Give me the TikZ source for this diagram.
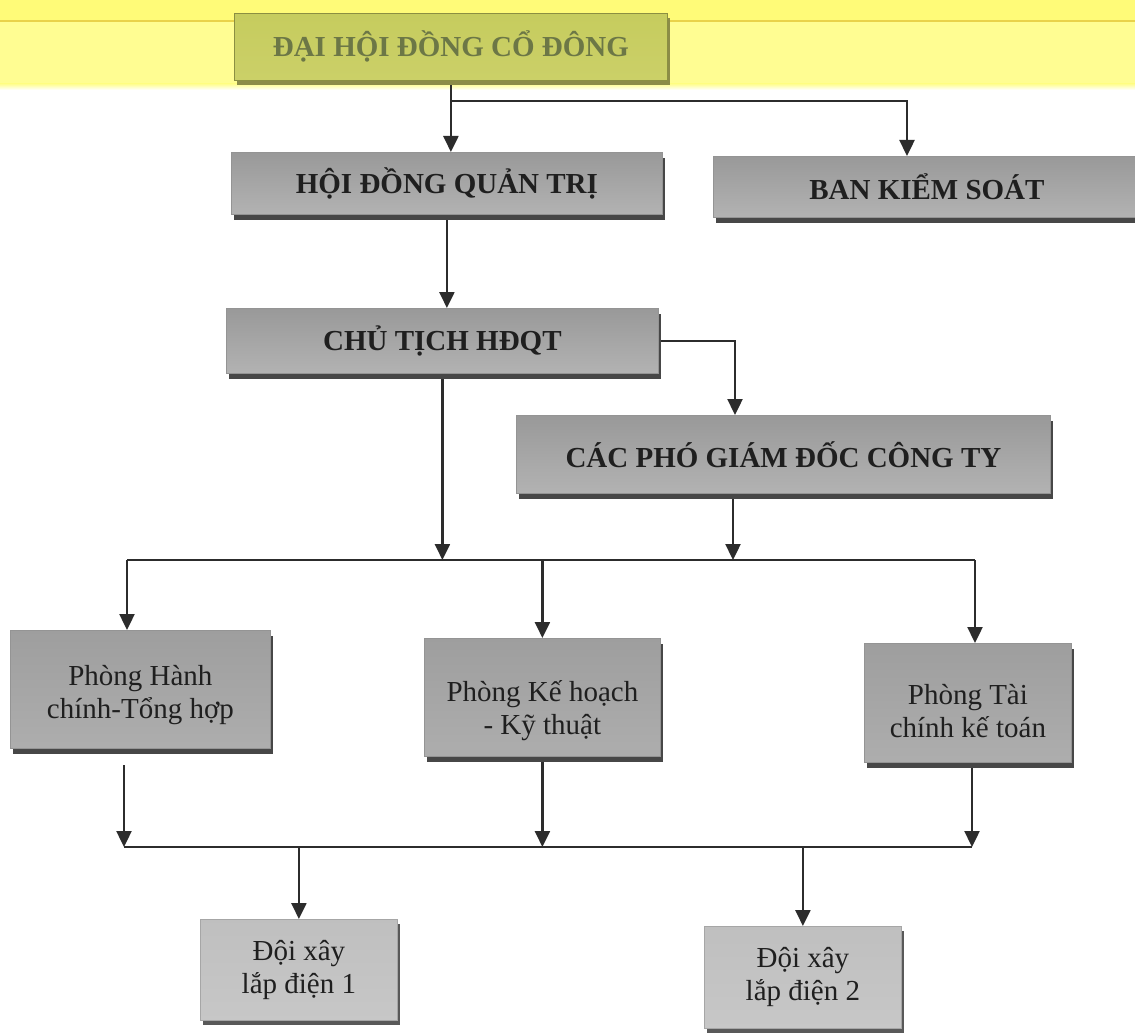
\documentclass[tikz,border=0pt]{standalone}
\usepackage{fontspec}
\setmainfont{Liberation Serif}
\usetikzlibrary{arrows.meta,shadows,calc}
\pgfdeclarelayer{back}
\pgfdeclarelayer{conn}
\pgfsetlayers{back,conn,main}
\definecolor{bandtop}{HTML}{FFFB78}
\definecolor{band}{HTML}{FFFD92}
\definecolor{bandline}{HTML}{E9D24A}
\definecolor{olivetop}{HTML}{C6CC5E}
\definecolor{olivemid}{HTML}{DADE86}
\definecolor{olivebot}{HTML}{CBD068}
\definecolor{olivetext}{HTML}{6C7746}
\definecolor{oliveshadow}{HTML}{8C8C48}
\definecolor{linec}{HTML}{2C2C2C}
\newcommand{\boldtext}{\fontsize{29}{33}\selectfont\bfseries}
\newcommand{\plaintext}{\fontsize{29}{33}\selectfont}
\tikzset{
  boxbase/.style={rectangle, anchor=north west, inner sep=0pt, align=center,
    line width=0.8pt},
  olivebox/.style={boxbase, draw=olivetop!70!black, top color=olivetop, middle color=olivemid,
    bottom color=olivebot, text=olivetext, font=\boldtext,
    general shadow={fill=oliveshadow, shadow xshift=3pt, shadow yshift=-5pt}},
  topbox/.style={boxbase, draw=black!42, top color=black!40, middle color=black!24,
    bottom color=black!30, text=black!88, font=\boldtext,
    general shadow={fill=black!72, shadow xshift=3pt, shadow yshift=-6pt}},
  deptbox/.style={boxbase, draw=black!42, top color=black!38, middle color=black!27,
    bottom color=black!32, text=black!88, font=\plaintext,
    general shadow={fill=black!72, shadow xshift=3pt, shadow yshift=-6pt}},
  teambox/.style={boxbase, draw=black!35, top color=black!25, middle color=black!17,
    bottom color=black!22, text=black!88, font=\plaintext,
    general shadow={fill=black!65, shadow xshift=3pt, shadow yshift=-5pt}},
  link/.style={draw=linec, line width=2.4pt},
  arr/.style={link, -{Triangle[width=15pt,length=16pt]}}
}
\begin{document}
\begin{tikzpicture}[x=1pt,y=-1pt]
\useasboundingbox (0,0) rectangle (1135,1035);
\clip (0,0) rectangle (1135,1035);
\begin{pgfonlayer}{back}
  \fill[white] (0,0) rectangle (1135,1035);
  \fill[bandtop] (0,0) rectangle (1135,21);
  \fill[band] (0,21) rectangle (1135,84);
  \shade[top color=band, bottom color=white] (0,84) rectangle (1135,90);
  \draw[bandline, line width=1.5pt] (0,21) -- (1135,21);
\end{pgfonlayer}

% boxes
\node[olivebox, minimum width=433pt, minimum height=67pt] (dh) at (234,13) {ĐẠI HỘI ĐỒNG CỔ ĐÔNG};
\node[topbox, minimum width=431pt, minimum height=62pt] (hq) at (231,152) {HỘI ĐỒNG QUẢN TRỊ};
\node[topbox, minimum width=427pt, minimum height=61pt] (bks) at (713,156) {BAN KIỂM SOÁT};
\node[topbox, minimum width=432pt, minimum height=65pt] (ct) at (226,308) {CHỦ TỊCH HĐQT};
\node[topbox, minimum width=534pt, minimum height=78pt] (cp) at (516,415) {CÁC PHÓ GIÁM ĐỐC CÔNG TY};
\node[deptbox, minimum width=260pt, minimum height=118pt] (p1) at (10,630) {\rule{0pt}{32pt}Phòng Hành\\chính-Tổng hợp};
\node[deptbox, minimum width=236pt, minimum height=118pt] (p2) at (424,638) {\rule{0pt}{48pt}Phòng Kế hoạch\\- Kỹ thuật};
\node[deptbox, minimum width=207pt, minimum height=119pt] (p3) at (864,643) {\rule{0pt}{36pt}Phòng Tài\\chính kế toán};
\node[teambox, minimum width=197pt, minimum height=101pt] (d1) at (200,919) {Đội xây\\lắp điện 1};
\node[teambox, minimum width=197pt, minimum height=102pt] (d2) at (704,926) {Đội xây\\lắp điện 2};

% junction coordinates
\coordinate (j0) at (451,101);
\coordinate (bksin) at (907,156);
\coordinate (cpin) at (735,415);
\coordinate (cpout) at (733,499);
\coordinate (bar1L) at (127,560);
\coordinate (bar1R) at (975,560);
\coordinate (p1out) at (124,765);
\coordinate (bar2L) at (124,847);
\coordinate (bar2R) at (972,847);

\begin{pgfonlayer}{conn}
  \draw[arr] (dh.south) -- (dh.south |- hq.north);
  \draw[arr] (j0) -| (bksin);
  \draw[arr] (hq.south) -- (hq.south |- ct.north);
  \draw[arr] (ct.east) -| (cpin);
  \draw[arr] (ct.south) -- (ct.south |- bar1L);
  \draw[arr] (cpout) -- (cpout |- bar1L);
  \draw[link] (bar1L) -- (bar1R);
  \draw[arr] (bar1L) -- (bar1L |- p1.north);
  \draw[arr] (p2.north |- bar1L) -- (p2.north);
  \draw[arr] (bar1R) -- (bar1R |- p3.north);
  \draw[arr] (p1out) -- (bar2L);
  \draw[arr] (p2.south) -- (p2.south |- bar2L);
  \draw[arr] (bar2R |- p3.south) -- (bar2R);
  \draw[link] (bar2L) -- (bar2R);
  \draw[arr] (d1.north |- bar2L) -- (d1.north);
  \draw[arr] (d2.north |- bar2L) -- (d2.north);
\end{pgfonlayer}
\end{tikzpicture}
\end{document}
